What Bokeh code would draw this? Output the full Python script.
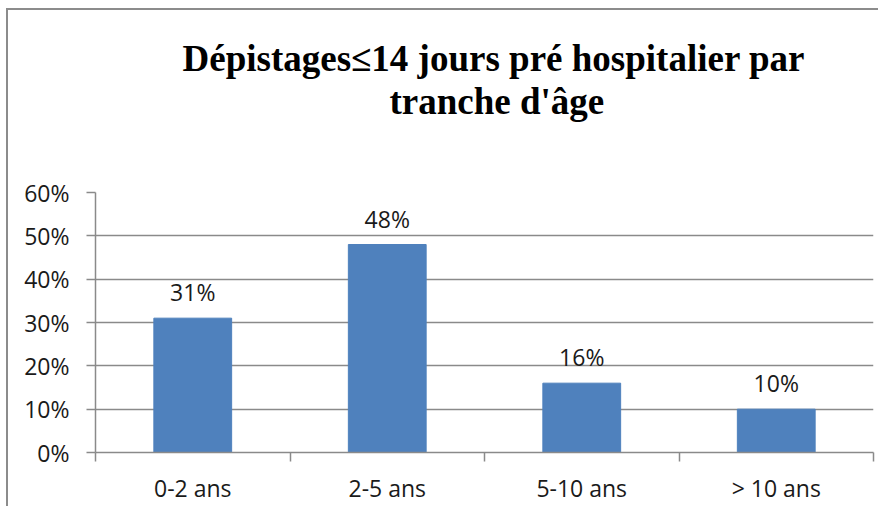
from bokeh.plotting import figure
from bokeh.models import Range1d, FixedTicker, NumeralTickFormatter, ColumnDataSource, Title, InlineStyleSheet
from bokeh.core.properties import value
from bokeh.embed import file_html
from bokeh.resources import INLINE

categories = ["0-2 ans", "2-5 ans", "5-10 ans", "> 10 ans"]
values = [0.31, 0.48, 0.16, 0.10]
value_labels = ["31%", "48%", "16%", "10%"]
title_lines = ["Dépistages≤14 jours pré hospitalier par", "tranche d'âge"]
y_ticks = [0, 0.1, 0.2, 0.3, 0.4, 0.5, 0.6]

xs = [i + 0.5 for i in range(len(categories))]
src = ColumnDataSource(dict(x=xs, top=values, lab=value_labels))

p = figure(width=878, height=506, output_backend="svg", toolbar_location=None,
           x_range=Range1d(0, len(categories)), y_range=Range1d(0, 0.6),
           min_border_left=95, min_border_right=5, min_border_bottom=52,
           min_border_top=192)
p.outline_line_color = None
p.border_fill_color = None
p.background_fill_color = "white"
p.stylesheets = [InlineStyleSheet(css=(
    ":host { background-color: white; "
    "box-shadow: inset 6px 8px 0 0 white, inset 8px 10px 0 0 #8c8c8c; }"
))]

title_style = dict(text_font="Liberation Serif", text_font_size="37px",
                   text_font_style="bold", text_color="black", align="left")
spacer = Title(text=" ", standoff=28, **title_style)
t2 = Title(text=title_lines[1], offset=294, standoff=0, **title_style)
t1 = Title(text=title_lines[0], offset=87, standoff=0, **title_style)
p.add_layout(spacer, "above")
p.add_layout(t2, "above")
p.add_layout(t1, "above")

p.vbar(x="x", top="top", width=0.4, bottom=0, source=src,
       fill_color="#4F81BD", line_color="#4F81BD")
p.text(x="x", y="top", text="lab", source=src, text_align="center",
       text_baseline="middle", y_offset=-26, text_font=value("Open Sans"),
       text_font_size="23px", text_color="#1a1a1a")

grid_col = "#8a8a8a"
p.xgrid.visible = False
p.ygrid.ticker = FixedTicker(ticks=y_ticks[1:])
p.ygrid.grid_line_color = grid_col
p.ygrid.grid_line_width = 1.5

p.yaxis.ticker = FixedTicker(ticks=y_ticks)
p.yaxis.formatter = NumeralTickFormatter(format="0%")
p.yaxis.major_tick_in = 0
p.yaxis.major_tick_out = 9
p.yaxis.major_label_standoff = 17
p.yaxis.major_label_text_font = "Open Sans"
p.yaxis.major_label_text_font_size = "23px"
p.yaxis.major_label_text_color = "#1a1a1a"
p.yaxis.major_tick_line_color = grid_col
p.yaxis.major_tick_line_width = 1.5
p.yaxis.minor_tick_line_color = None

p.xaxis.ticker = FixedTicker(ticks=xs, minor_ticks=list(range(len(categories) + 1)))
p.xaxis.major_label_overrides = {x: c for x, c in zip(xs, categories)}
p.xaxis.major_tick_line_color = None
p.xaxis.minor_tick_in = 0
p.xaxis.minor_tick_out = 9
p.xaxis.minor_tick_line_color = grid_col
p.xaxis.minor_tick_line_width = 1.5
p.xaxis.major_label_standoff = 10
p.xaxis.major_label_text_font = "Open Sans"
p.xaxis.major_label_text_font_size = "23px"
p.xaxis.major_label_text_color = "#1a1a1a"

for ax in (p.xaxis, p.yaxis):
    ax.axis_line_color = grid_col
    ax.axis_line_width = 1.5

open("out.html", "w").write(file_html(p, INLINE))
